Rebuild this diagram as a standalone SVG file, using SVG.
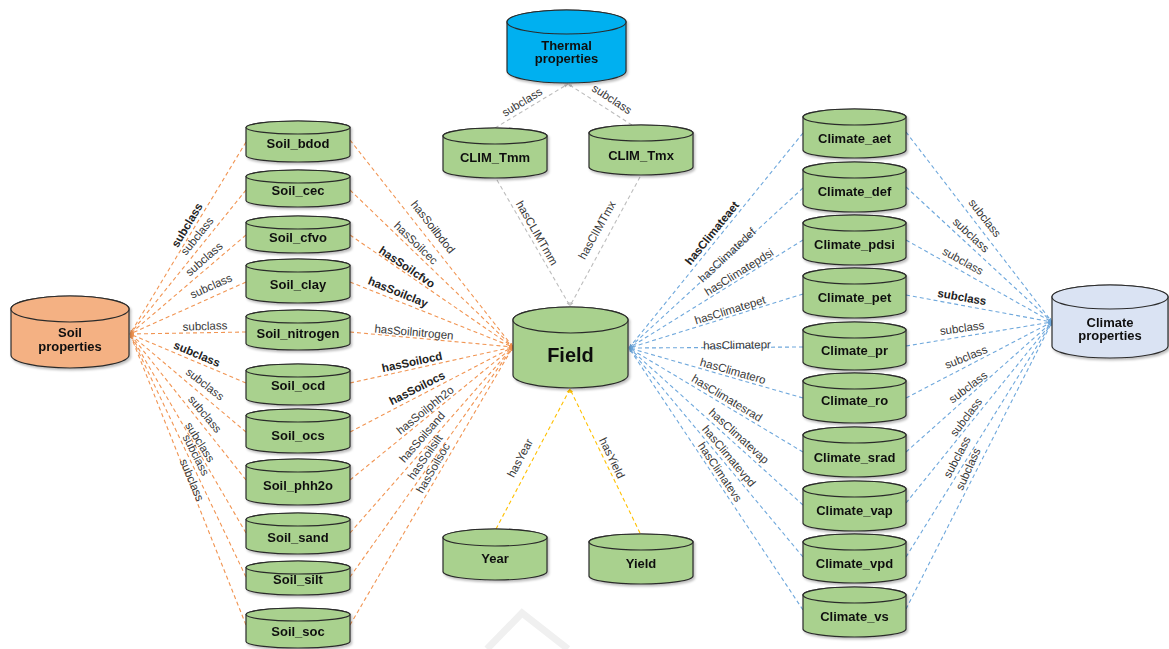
<svg xmlns="http://www.w3.org/2000/svg" width="1169" height="649" viewBox="0 0 1169 649">
<defs>
<style>
.cyl{stroke:#2b2b2b;stroke-width:1.2}
.g{fill:#A9D18E}
.n{font-family:"Liberation Sans",Arial,sans-serif;font-weight:bold;font-size:13px;fill:#111;text-anchor:middle}
.e{font-family:"Liberation Sans",Arial,sans-serif;font-size:11.5px;fill:#383838;text-anchor:middle;dominant-baseline:central}
.eb{font-weight:bold;fill:#222}
.c{fill:none;stroke-width:1.1;stroke-dasharray:4 3}
.or{stroke:#F19553}
.bl{stroke:#6FA8DC}
.gr{stroke:#BDBDBD}
.ye{stroke:#FFC000}
</style>
<filter id="sh" x="-10%" y="-10%" width="130%" height="130%"><feDropShadow dx="1.5" dy="2" stdDeviation="1.2" flood-color="#000" flood-opacity="0.25"/></filter>
<marker id="mo" viewBox="0 0 10 10" refX="10" refY="5" markerWidth="4" markerHeight="4" markerUnits="userSpaceOnUse" orient="auto"><path d="M0,1L10,5L0,9z" fill="#F19553"/></marker>
<marker id="mb" viewBox="0 0 10 10" refX="10" refY="5" markerWidth="4" markerHeight="4" markerUnits="userSpaceOnUse" orient="auto"><path d="M0,1L10,5L0,9z" fill="#6FA8DC"/></marker>
<marker id="mg" viewBox="0 0 10 10" refX="10" refY="5" markerWidth="4" markerHeight="4" markerUnits="userSpaceOnUse" orient="auto"><path d="M0,1L10,5L0,9z" fill="#BDBDBD"/></marker>
<marker id="my" viewBox="0 0 10 10" refX="10" refY="5" markerWidth="4" markerHeight="4" markerUnits="userSpaceOnUse" orient="auto"><path d="M0,1L10,5L0,9z" fill="#FFC000"/></marker>
</defs>
<rect width="1169" height="649" fill="#fff"/>
<path d="M487,649 L522,613 L568,649" fill="none" stroke="#F0F0F0" stroke-width="7"/>

<g id="connectors">
<g class="c or" marker-end="url(#mo)">
<path d="M246,142L130,334"/><path d="M246,190L130,334"/><path d="M246,235L130,334"/><path d="M246,282L130,334"/><path d="M246,332L130,334"/><path d="M246,383L130,334"/><path d="M246,432L130,334"/><path d="M246,480L130,334"/><path d="M246,533L130,334"/><path d="M246,577L130,334"/><path d="M246,625L130,334"/>
<path d="M350,140L513,347"/><path d="M350,190L513,347"/><path d="M350,235L513,347"/><path d="M350,282L513,347"/><path d="M350,332L513,347"/><path d="M350,383L513,347"/><path d="M350,432L513,347"/><path d="M350,480L513,347"/><path d="M350,533L513,347"/><path d="M350,577L513,347"/><path d="M350,625L513,347"/>
</g>
<g class="c bl" marker-end="url(#mb)">
<path d="M803,133L629,348"/><path d="M803,188L629,348"/><path d="M803,240L629,348"/><path d="M803,294L629,348"/><path d="M803,347L629,348"/><path d="M803,398L629,348"/><path d="M803,452L629,348"/><path d="M803,505L629,348"/><path d="M803,557L629,348"/><path d="M803,610L629,348"/>
<path d="M906,132L1052,322"/><path d="M906,187L1052,322"/><path d="M906,240L1052,322"/><path d="M906,295L1052,322"/><path d="M906,346L1052,322"/><path d="M906,398L1052,322"/><path d="M906,452L1052,322"/><path d="M906,503L1052,322"/><path d="M906,557L1052,322"/><path d="M906,609L1052,322"/>
</g>
<g class="c gr" marker-end="url(#mg)">
<path d="M495,128L568,84"/><path d="M632,125L568,84"/>
<path d="M497,180L570,306"/><path d="M640,177L570,306"/>
</g>
<g class="c ye" marker-end="url(#my)">
<path d="M496,529L570,389"/><path d="M640,533L570,389"/>
</g>

<text class="e eb" transform="translate(187,225) rotate(-59)">subclass</text>
<text class="e" transform="translate(197,236) rotate(-51)">subclass</text>
<text class="e" transform="translate(204,259) rotate(-41)">subclass</text>
<text class="e" transform="translate(211,286) rotate(-24)">subclass</text>
<text class="e" transform="translate(205,326) rotate(-2)">subclass</text>
<text class="e eb" transform="translate(197,354) rotate(23)">subclass</text>
<text class="e" transform="translate(205,384) rotate(38)">subclass</text>
<text class="e" transform="translate(205,414) rotate(50)">subclass</text>
<text class="e" transform="translate(200,442) rotate(58)">subclass</text>
<text class="e" transform="translate(196,455) rotate(63)">subclass</text>
<text class="e" transform="translate(192,480) rotate(67)">subclass</text>

<text class="e" transform="translate(433,227) rotate(52)">hasSoilbdod</text>
<text class="e" transform="translate(416,243) rotate(44)">hasSoilcec</text>
<text class="e eb" transform="translate(407,267) rotate(34)">hasSoilcfvo</text>
<text class="e eb" transform="translate(398,292) rotate(22)">hasSoilclay</text>
<text class="e" transform="translate(414,332) rotate(5)">hasSoilnitrogen</text>
<text class="e eb" transform="translate(412,362) rotate(-12)">hasSoilocd</text>
<text class="e eb" transform="translate(417,388) rotate(-27)">hasSoilocs</text>
<text class="e" transform="translate(425,410) rotate(-39)">hasSoilphh2o</text>
<text class="e" transform="translate(422,437) rotate(-49)">hasSoilsand</text>
<text class="e" transform="translate(425,457) rotate(-55)">hasSoilsilt</text>
<text class="e" transform="translate(433,468) rotate(-60)">hasSoilsoc</text>

<text class="e" transform="translate(522,102) rotate(-31)">subclass</text>
<text class="e" transform="translate(612,99) rotate(33)">subclass</text>
<text class="e" transform="translate(537,233) rotate(60)">hasCLIMTmm</text>
<text class="e" transform="translate(597,230) rotate(-61)">hasClIMTmx</text>
<text class="e" transform="translate(520,458) rotate(-62)">hasYear</text>
<text class="e" transform="translate(612,458) rotate(64)">hasYield</text>

<text class="e eb" transform="translate(712,233) rotate(-51)">hasClimateaet</text>
<text class="e" transform="translate(727,255) rotate(-43)">hasClimatedef</text>
<text class="e" transform="translate(739,272) rotate(-32)">hasClimatepdsi</text>
<text class="e" transform="translate(730,310) rotate(-17)">hasClimatepet</text>
<text class="e" transform="translate(737,345) rotate(-1)">hasClimatepr</text>
<text class="e" transform="translate(733,371) rotate(16)">hasClimatero</text>
<text class="e" transform="translate(727,398) rotate(31)">hasClimatesrad</text>
<text class="e" transform="translate(739,436) rotate(42)">hasClimatevap</text>
<text class="e" transform="translate(729,456) rotate(50)">hasClimatevpd</text>
<text class="e" transform="translate(720,472) rotate(56)">hasClimatevs</text>

<text class="e" transform="translate(985,218) rotate(52)">subclass</text>
<text class="e" transform="translate(971,235) rotate(43)">subclass</text>
<text class="e" transform="translate(963,261) rotate(29)">subclass</text>
<text class="e eb" transform="translate(962,297) rotate(10)">subclass</text>
<text class="e" transform="translate(962,328) rotate(-8)">subclass</text>
<text class="e" transform="translate(966,357) rotate(-22)">subclass</text>
<text class="e" transform="translate(968,387) rotate(-37)">subclass</text>
<text class="e" transform="translate(966,417) rotate(-53)">subclass</text>
<text class="e" transform="translate(957,457) rotate(-62)">subclass</text>
<text class="e" transform="translate(968,469) rotate(-66)">subclass</text>
</g>

<g id="thermal_properties" filter="url(#sh)"><path class="cyl" fill="#00B0F0" d="M507,22v49a59.5,12 0 0 0 119,0v-49a59.5,12 0 0 0 -119,0z"/><ellipse class="cyl" fill="#00B0F0" cx="566.5" cy="22" rx="59.5" ry="12"/><text class="n" x="566.5" y="49.5">Thermal</text><text class="n" x="566.5" y="62.5">properties</text></g>
<g id="soil_properties" filter="url(#sh)"><path class="cyl" fill="#F4B183" d="M11,309v46a59,13 0 0 0 118,0v-46a59,13 0 0 0 -118,0z"/><ellipse class="cyl" fill="#F4B183" cx="70" cy="309" rx="59" ry="13"/><text class="n" x="70" y="336.5">Soil</text><text class="n" x="70" y="350.5">properties</text></g>
<g id="climate_properties" filter="url(#sh)"><path class="cyl" fill="#DAE3F3" d="M1052,297v49a58,12 0 0 0 116,0v-49a58,12 0 0 0 -116,0z"/><ellipse class="cyl" fill="#DAE3F3" cx="1110" cy="297" rx="58" ry="12"/><text class="n" x="1110" y="326.5">Climate</text><text class="n" x="1110" y="339.5">properties</text></g>
<g id="field" filter="url(#sh)"><path class="cyl g" d="M513,320v55a57.5,13 0 0 0 115,0v-55a57.5,13 0 0 0 -115,0z"/><ellipse class="cyl g" cx="570.5" cy="320" rx="57.5" ry="13"/><text class="n" style="font-size:20px" x="570.5" y="362">Field</text></g>
<g id="clim_tmm" filter="url(#sh)"><path class="cyl g" d="M443,136v34a52,8 0 0 0 104,0v-34a52,8 0 0 0 -104,0z"/><ellipse class="cyl g" cx="495" cy="136" rx="52" ry="8"/><text class="n" x="495" y="161.5">CLIM_Tmm</text></g>
<g id="clim_tmx" filter="url(#sh)"><path class="cyl g" d="M589,133v34a52,8 0 0 0 104,0v-34a52,8 0 0 0 -104,0z"/><ellipse class="cyl g" cx="641" cy="133" rx="52" ry="8"/><text class="n" x="641" y="159.5">CLIM_Tmx</text></g>
<g id="year" filter="url(#sh)"><path class="cyl g" d="M443,537.5v34a52,8.5 0 0 0 104,0v-34a52,8.5 0 0 0 -104,0z"/><ellipse class="cyl g" cx="495" cy="537.5" rx="52" ry="8.5"/><text class="n" x="495" y="562.5">Year</text></g>
<g id="yield" filter="url(#sh)"><path class="cyl g" d="M589,542v34a52,8 0 0 0 104,0v-34a52,8 0 0 0 -104,0z"/><ellipse class="cyl g" cx="641" cy="542" rx="52" ry="8"/><text class="n" x="641" y="567.5">Yield</text></g>

<g id="soil_bdod" filter="url(#sh)"><path class="cyl g" d="M246,127.5v28a52,6.5 0 0 0 104,0v-28a52,6.5 0 0 0 -104,0z"/><ellipse class="cyl g" cx="298" cy="127.5" rx="52" ry="6.5"/><text class="n" x="298" y="147.5">Soil_bdod</text></g>
<g id="soil_cec" filter="url(#sh)"><path class="cyl g" d="M246,176.5v24a52,6.5 0 0 0 104,0v-24a52,6.5 0 0 0 -104,0z"/><ellipse class="cyl g" cx="298" cy="176.5" rx="52" ry="6.5"/><text class="n" x="298" y="194.5">Soil_cec</text></g>
<g id="soil_cfvo" filter="url(#sh)"><path class="cyl g" d="M246,222.5v24a52,6.5 0 0 0 104,0v-24a52,6.5 0 0 0 -104,0z"/><ellipse class="cyl g" cx="298" cy="222.5" rx="52" ry="6.5"/><text class="n" x="298" y="241.5">Soil_cfvo</text></g>
<g id="soil_clay" filter="url(#sh)"><path class="cyl g" d="M246,265.5v31a52,6.5 0 0 0 104,0v-31a52,6.5 0 0 0 -104,0z"/><ellipse class="cyl g" cx="298" cy="265.5" rx="52" ry="6.5"/><text class="n" x="298" y="288.5">Soil_clay</text></g>
<g id="soil_nitrogen" filter="url(#sh)"><path class="cyl g" d="M246,316.5v27a52,6.5 0 0 0 104,0v-27a52,6.5 0 0 0 -104,0z"/><ellipse class="cyl g" cx="298" cy="316.5" rx="52" ry="6.5"/><text class="n" x="298" y="337.5">Soil_nitrogen</text></g>
<g id="soil_ocd" filter="url(#sh)"><path class="cyl g" d="M246,370.5v28a52,6.5 0 0 0 104,0v-28a52,6.5 0 0 0 -104,0z"/><ellipse class="cyl g" cx="298" cy="370.5" rx="52" ry="6.5"/><text class="n" x="298" y="389.5">Soil_ocd</text></g>
<g id="soil_ocs" filter="url(#sh)"><path class="cyl g" d="M246,415.5v31a52,6.5 0 0 0 104,0v-31a52,6.5 0 0 0 -104,0z"/><ellipse class="cyl g" cx="298" cy="415.5" rx="52" ry="6.5"/><text class="n" x="298" y="439.5">Soil_ocs</text></g>
<g id="soil_phh2o" filter="url(#sh)"><path class="cyl g" d="M246,465.5v33a52,6.5 0 0 0 104,0v-33a52,6.5 0 0 0 -104,0z"/><ellipse class="cyl g" cx="298" cy="465.5" rx="52" ry="6.5"/><text class="n" x="298" y="489.5">Soil_phh2o</text></g>
<g id="soil_sand" filter="url(#sh)"><path class="cyl g" d="M246,519.5v28a52,6.5 0 0 0 104,0v-28a52,6.5 0 0 0 -104,0z"/><ellipse class="cyl g" cx="298" cy="519.5" rx="52" ry="6.5"/><text class="n" x="298" y="541.5">Soil_sand</text></g>
<g id="soil_silt" filter="url(#sh)"><path class="cyl g" d="M246,567.5v21a52,6.5 0 0 0 104,0v-21a52,6.5 0 0 0 -104,0z"/><ellipse class="cyl g" cx="298" cy="567.5" rx="52" ry="6.5"/><text class="n" x="298" y="583.5">Soil_silt</text></g>
<g id="soil_soc" filter="url(#sh)"><path class="cyl g" d="M246,614.5v27a52,6.5 0 0 0 104,0v-27a52,6.5 0 0 0 -104,0z"/><ellipse class="cyl g" cx="298" cy="614.5" rx="52" ry="6.5"/><text class="n" x="298" y="635.5">Soil_soc</text></g>

<g id="climate_aet" filter="url(#sh)"><path class="cyl g" d="M803,117v33a51.5,8 0 0 0 103,0v-33a51.5,8 0 0 0 -103,0z"/><ellipse class="cyl g" cx="854.5" cy="117" rx="51.5" ry="8"/><text class="n" x="854.5" y="142.5">Climate_aet</text></g>
<g id="climate_def" filter="url(#sh)"><path class="cyl g" d="M803,170v34a51.5,8 0 0 0 103,0v-34a51.5,8 0 0 0 -103,0z"/><ellipse class="cyl g" cx="854.5" cy="170" rx="51.5" ry="8"/><text class="n" x="854.5" y="195.5">Climate_def</text></g>
<g id="climate_pdsi" filter="url(#sh)"><path class="cyl g" d="M803,223v34a51.5,8 0 0 0 103,0v-34a51.5,8 0 0 0 -103,0z"/><ellipse class="cyl g" cx="854.5" cy="223" rx="51.5" ry="8"/><text class="n" x="854.5" y="248.5">Climate_pdsi</text></g>
<g id="climate_pet" filter="url(#sh)"><path class="cyl g" d="M803,276v34a51.5,8 0 0 0 103,0v-34a51.5,8 0 0 0 -103,0z"/><ellipse class="cyl g" cx="854.5" cy="276" rx="51.5" ry="8"/><text class="n" x="854.5" y="301.5">Climate_pet</text></g>
<g id="climate_pr" filter="url(#sh)"><path class="cyl g" d="M803,330v32a51.5,8 0 0 0 103,0v-32a51.5,8 0 0 0 -103,0z"/><ellipse class="cyl g" cx="854.5" cy="330" rx="51.5" ry="8"/><text class="n" x="854.5" y="354.5">Climate_pr</text></g>
<g id="climate_ro" filter="url(#sh)"><path class="cyl g" d="M803,381v34a51.5,8 0 0 0 103,0v-34a51.5,8 0 0 0 -103,0z"/><ellipse class="cyl g" cx="854.5" cy="381" rx="51.5" ry="8"/><text class="n" x="854.5" y="404.5">Climate_ro</text></g>
<g id="climate_srad" filter="url(#sh)"><path class="cyl g" d="M803,435v34a51.5,8 0 0 0 103,0v-34a51.5,8 0 0 0 -103,0z"/><ellipse class="cyl g" cx="854.5" cy="435" rx="51.5" ry="8"/><text class="n" x="854.5" y="461.5">Climate_srad</text></g>
<g id="climate_vap" filter="url(#sh)"><path class="cyl g" d="M803,489v34a51.5,8 0 0 0 103,0v-34a51.5,8 0 0 0 -103,0z"/><ellipse class="cyl g" cx="854.5" cy="489" rx="51.5" ry="8"/><text class="n" x="854.5" y="514.5">Climate_vap</text></g>
<g id="climate_vpd" filter="url(#sh)"><path class="cyl g" d="M803,542v33a51.5,8 0 0 0 103,0v-33a51.5,8 0 0 0 -103,0z"/><ellipse class="cyl g" cx="854.5" cy="542" rx="51.5" ry="8"/><text class="n" x="854.5" y="567.5">Climate_vpd</text></g>
<g id="climate_vs" filter="url(#sh)"><path class="cyl g" d="M803,595v34a51.5,8 0 0 0 103,0v-34a51.5,8 0 0 0 -103,0z"/><ellipse class="cyl g" cx="854.5" cy="595" rx="51.5" ry="8"/><text class="n" x="854.5" y="620.5">Climate_vs</text></g>
</svg>
